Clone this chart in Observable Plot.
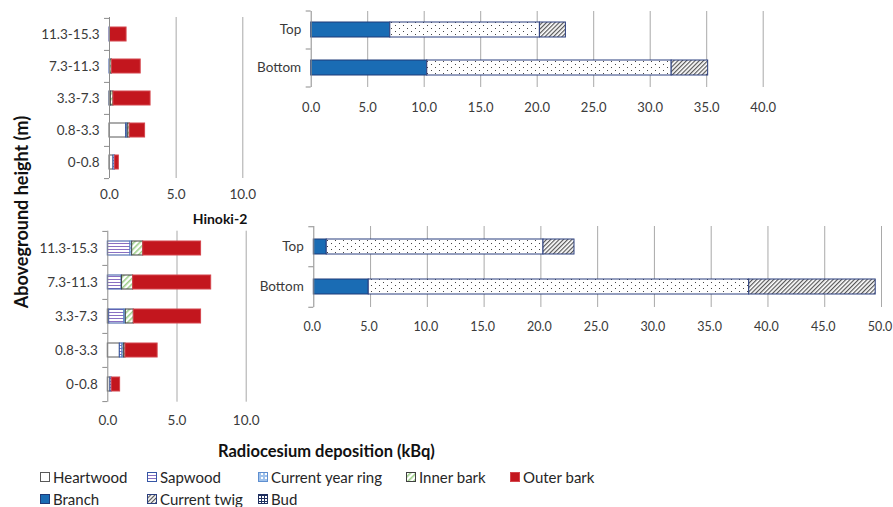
<!DOCTYPE html>
<html><head><meta charset="utf-8">
<script src="https://cdn.jsdelivr.net/npm/d3@7"></script>
<script src="https://cdn.jsdelivr.net/npm/@observablehq/plot@0.6"></script>
<style>
body{margin:0;background:#fff;font-family:Lato,sans-serif;}
#c{position:relative;width:893px;height:507px;overflow:hidden;background:#fff;}
.p{position:absolute;}
#ov{position:absolute;left:0;top:0;}
</style></head><body>
<svg width="0" height="0" style="position:absolute">
<defs>
<pattern id="pSap" width="4" height="3" patternUnits="userSpaceOnUse"><rect width="4" height="3" fill="#fff"/><rect y="1" width="4" height="1" fill="#8a70c2"/></pattern>
<pattern id="pRing" width="4" height="4" patternUnits="userSpaceOnUse"><rect width="4" height="4" fill="#9fc2ec"/><rect x="1" y="1" width="2" height="2" fill="#fff"/></pattern>
<pattern id="pInner" width="4" height="4" patternUnits="userSpaceOnUse" patternTransform="rotate(45)"><rect width="4" height="4" fill="#fff"/><rect width="1.6" height="4" fill="#9fd08a"/></pattern>
<pattern id="pTwig" width="3" height="3" patternUnits="userSpaceOnUse" patternTransform="rotate(45)"><rect width="3" height="3" fill="#fff"/><rect width="1.2" height="3" fill="#555"/></pattern>
<pattern id="pBud" width="8" height="6" patternUnits="userSpaceOnUse"><rect width="8" height="6" fill="#fff"/><rect x="1" y="1" width="1" height="1" fill="#444"/><rect x="5" y="4" width="1" height="1" fill="#444"/></pattern>
<pattern id="pGrid" width="3" height="3" patternUnits="userSpaceOnUse"><rect width="3" height="3" fill="#fff"/><rect width="3" height="1" fill="#1f2f5f"/><rect width="1" height="3" fill="#1f2f5f"/></pattern>
</defs>
</svg>
<div id="c"></div>
<script>
// ---------- data ----------
const heights = ["11.3-15.3", "7.3-11.3", "3.3-7.3", "0.8-3.3", "0-0.8"];
const stemParts = ["Heartwood", "Sapwood", "Current year ring", "Inner bark", "Outer bark"];
const positions = ["Top", "Bottom"];
const branchParts = ["Branch", "Bud", "Current twig"];

// Hinoki-1 stem (kBq), order follows heights
const h1Heartwood = [0.00, 0.00, 0.02, 1.25, 0.30];
const h1Sapwood   = [0.03, 0.05, 0.05, 0.08, 0.10];
const h1Ring      = [0.00, 0.02, 0.03, 0.04, 0.02];
const h1Inner     = [0.00, 0.12, 0.20, 0.15, 0.00];
const h1Outer     = [1.25, 2.15, 2.78, 1.15, 0.28];
// Hinoki-1 branches, order follows positions
const h1Branch = [7.00, 10.27];
const h1Bud    = [13.24, 21.63];
const h1Twig   = [2.30, 3.23];

// Hinoki-2 stem
const h2Heartwood = [0.00, 0.00, 0.10, 0.87, 0.19];
const h2Sapwood   = [1.64, 1.00, 1.10, 0.19, 0.10];
const h2Ring      = [0.12, 0.03, 0.10, 0.10, 0.00];
const h2Inner     = [0.80, 0.80, 0.58, 0.12, 0.00];
const h2Outer     = [4.18, 5.64, 4.86, 2.32, 0.60];
// Hinoki-2 branches
const h2Branch = [1.14, 4.84];
const h2Bud    = [19.09, 33.51];
const h2Twig   = [2.73, 11.14];

const stemTicks = [0, 5, 10];
const branchTicks1 = [0, 5, 10, 15, 20, 25, 30, 35, 40];
const branchTicks2 = [0, 5, 10, 15, 20, 25, 30, 35, 40, 45, 50];

const legendRow1 = ["Heartwood", "Sapwood", "Current year ring", "Inner bark", "Outer bark"];
const legendRow2 = ["Branch", "Current twig", "Bud"];

// ---------- styles ----------
const style = {
  "Heartwood": {fill: "#ffffff", stroke: "#595959"},
  "Sapwood": {fill: "url(#pSap)", stroke: "#3656a5"},
  "Current year ring": {fill: "url(#pRing)", stroke: "#5f8fd0"},
  "Inner bark": {fill: "url(#pInner)", stroke: "#404040"},
  "Outer bark": {fill: "#c3161e", stroke: "#d4454c"},
  "Branch": {fill: "#1a6cb4", stroke: "#1f3a78"},
  "Bud": {fill: "url(#pBud)", stroke: "#2b3f7e"},
  "Current twig": {fill: "url(#pTwig)", stroke: "#2b3f7e"}
};
const legendStyle = Object.assign({}, style, {"Bud": {fill: "url(#pGrid)", stroke: "#1f2f5f"}});
const axisColor = "#8c8c8c";
const gridColor = "#a9a9a9";

function stackRows(cats, parts, values) {
  const rows = [];
  cats.forEach((c, i) => {
    let acc = 0;
    parts.forEach((p, j) => {
      const v = values[j][i];
      rows.push({cat: c, part: p, x1: acc, x2: acc + v});
      acc += v;
    });
  });
  return rows;
}

function chart(cfg) {
  const rows = stackRows(cfg.cats, cfg.parts, cfg.values);
  const n = cfg.cats.length;
  const step = (cfg.height - cfg.mT - cfg.mB) / n;
  const pad = 1 - cfg.barH / step;
  const marks = [
    Plot.ruleX(cfg.ticks.filter(t => t > 0), {stroke: gridColor, strokeWidth: 1}),
    ...cfg.parts.map(p => Plot.barX(rows.filter(r => r.part === p && r.x2 > r.x1),
      {x1: "x1", x2: "x2", y: "cat", fill: style[p].fill, stroke: style[p].stroke, strokeWidth: 1})),
    Plot.ruleX([0], {stroke: axisColor, strokeWidth: 1}),
    Plot.ruleY(cfg.cats, {y: d => d, x1: 0, x2: 0, insetLeft: -5, dy: -step / 2, stroke: axisColor}),
    Plot.ruleY([cfg.cats[n - 1]], {y: d => d, x1: 0, x2: 0, insetLeft: -5, dy: step / 2, stroke: axisColor}),
    Plot.axisX({ticks: cfg.ticks, tickSize: 0, tickPadding: cfg.xPad, tickFormat: d3.format(".1f"),
      fontSize: cfg.xFont || 13.5, dx: cfg.xDx || 0}),
    Plot.axisY({tickSize: 0, tickPadding: cfg.yPad, fontSize: cfg.yFont || 13.5})
  ];
  const svg = Plot.plot({
    width: cfg.width, height: cfg.height,
    marginLeft: cfg.mL, marginRight: cfg.mR, marginTop: cfg.mT, marginBottom: cfg.mB,
    x: {domain: cfg.xDomain, label: null},
    y: {domain: cfg.cats, paddingInner: pad, paddingOuter: pad / 2, label: null},
    style: {fontFamily: "Lato, sans-serif", color: "#3a3a3a", background: "transparent", overflow: "visible"},
    marks
  });
  const div = document.createElement("div");
  div.className = "p";
  div.style.left = cfg.left + "px";
  div.style.top = cfg.top + "px";
  div.appendChild(svg);
  document.getElementById("c").appendChild(div);
}

chart({left: 0, top: 0, width: 260, height: 210, mL: 109, mR: 17.7, mT: 17, mB: 32,
  xDomain: [0, 10], ticks: stemTicks, barH: 14, xPad: 11, yPad: 10,
  cats: heights, parts: stemParts, values: [h1Heartwood, h1Sapwood, h1Ring, h1Inner, h1Outer]});
chart({left: 250, top: 0, width: 643, height: 130, mL: 60.7, mR: 130.3, mT: 11, mB: 43,
  xDomain: [0, 40], ticks: branchTicks1, barH: 15, xPad: 15, yPad: 10, xFont: 13,
  cats: positions, parts: branchParts, values: [h1Branch, h1Bud, h1Twig]});
chart({left: 0, top: 200, width: 260, height: 240, mL: 107.3, mR: 14.3, mT: 30.7, mB: 38.3,
  xDomain: [0, 10], ticks: stemTicks, barH: 14, xPad: 13.5, yPad: 10,
  cats: heights, parts: stemParts, values: [h2Heartwood, h2Sapwood, h2Ring, h2Inner, h2Outer]});
chart({left: 250, top: 200, width: 643, height: 150, mL: 63.3, mR: 12, mT: 26, mB: 43,
  xDomain: [0, 50], ticks: branchTicks2, barH: 15, xPad: 15, yPad: 10, xFont: 12.5, xDx: -1.5,
  cats: positions, parts: branchParts, values: [h2Branch, h2Bud, h2Twig]});

// ---------- overlay: titles and legend ----------
const ov = d3.select("#c").append("svg").attr("id", "ov").attr("width", 893).attr("height", 507)
  .style("font-family", "Lato, sans-serif");
ov.append("text").attr("transform", "translate(21,212) rotate(-90)")
  .attr("text-anchor", "middle").attr("dominant-baseline", "central")
  .attr("font-weight", "bold").attr("font-size", 18).attr("fill", "#111")
  .text("Aboveground height (m)");
ov.append("text").attr("x", 218).attr("y", 451).attr("dominant-baseline", "central")
  .attr("font-weight", "bold").attr("font-size", 16.5).attr("fill", "#111")
  .text("Radiocesium deposition (kBq)");
ov.append("text").attr("x", 220).attr("y", 218).attr("text-anchor", "middle").attr("dominant-baseline", "central")
  .attr("font-weight", "bold").attr("font-size", 14).attr("fill", "#111")
  .text("Hinoki-2");

const row1X = [40, 147, 258, 406, 510];
const row2X = [40, 147, 258];
function legendItem(name, x, y) {
  const s = legendStyle[name];
  ov.append("rect").attr("x", x + 0.5).attr("y", y - 4.5).attr("width", 9).attr("height", 9)
    .attr("fill", s.fill).attr("stroke", s.stroke).attr("stroke-width", 1);
  ov.append("text").attr("x", x + 13).attr("y", y).attr("dominant-baseline", "central")
    .attr("font-size", 15).attr("fill", "#262626").text(name);
}
legendRow1.forEach((n, i) => legendItem(n, row1X[i], 477));
legendRow2.forEach((n, i) => legendItem(n, row2X[i], 499));
</script>
</body></html>
